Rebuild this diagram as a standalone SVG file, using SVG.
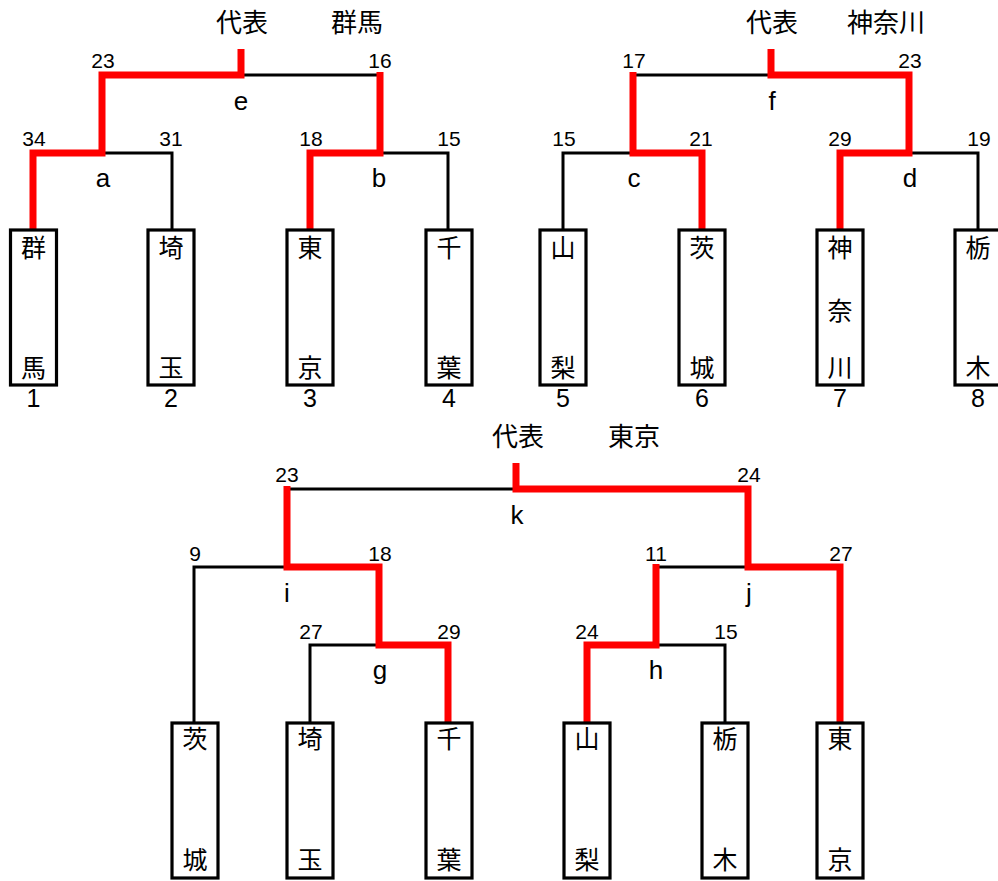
<svg xmlns="http://www.w3.org/2000/svg" width="998" height="881" viewBox="0 0 998 881">
<style>
.bg{fill:#fff}
.box{fill:#fff;stroke:#000;stroke-width:3.2}
.bk{fill:none;stroke:#000;stroke-width:3}
.rd{fill:none;stroke:#f00;stroke-width:7;stroke-linejoin:miter;stroke-linecap:butt}
.jp{font-family:"Noto Sans CJK JP","Noto Sans CJK SC",sans-serif;font-size:25px;fill:#000;text-anchor:middle}
.tt{font-family:"Noto Sans CJK JP","Noto Sans CJK SC",sans-serif;font-size:26px;fill:#000;text-anchor:middle}
.sc{font-family:"Liberation Sans",Arial,sans-serif;font-size:21px;fill:#000;text-anchor:middle}
.lb{font-family:"Liberation Sans",Arial,sans-serif;font-size:26px;fill:#000;text-anchor:middle}
.ix{font-family:"Liberation Sans",Arial,sans-serif;font-size:25px;fill:#000;text-anchor:middle}
</style>
<rect class="bg" x="0" y="0" width="998" height="881"/>

<g id="connectors">
  <path class="bk" d="M241,75 H380"/>
  <path class="bk" d="M102,153 H172 V230"/>
  <path class="bk" d="M380,153 H448 V230"/>
  <path class="bk" d="M633,75 H771"/>
  <path class="bk" d="M633,153 H563 V230"/>
  <path class="bk" d="M909,153 H978 V230"/>
  <path class="bk" d="M287,489 H516"/>
  <path class="bk" d="M287,567 H194 V723"/>
  <path class="bk" d="M379,645 H310 V723"/>
  <path class="bk" d="M656,567 H748"/>
  <path class="bk" d="M656,645 H725 V723"/>
  <path class="rd" d="M241,49 V75 H102 V153 H33 V230"/>
  <path class="rd" d="M380,72 V153 H310 V230"/>
  <path class="rd" d="M771,49 V75 H909 V153 H840 V230"/>
  <path class="rd" d="M633,72 V153 H702 V230"/>
  <path class="rd" d="M516,463 V489 H748 V567 H840 V723"/>
  <path class="rd" d="M287,486 V567 H379 V645 H448 V723"/>
  <path class="rd" d="M656,564 V645 H587 V723"/>
</g>

<g id="title-top-left"><text class="tt" x="242" y="32">代表</text><text class="tt" x="357" y="32">群馬</text></g>
<g id="title-top-right"><text class="tt" x="772" y="32">代表</text><text class="tt" x="886" y="32">神奈川</text></g>
<g id="title-bottom"><text class="tt" x="518" y="446">代表</text><text class="tt" x="634" y="446">東京</text></g>

<g id="match-e"><text class="lb" x="241" y="110">e</text><text class="sc" x="103" y="68">23</text><text class="sc" x="380" y="68">16</text></g>
<g id="match-a"><text class="lb" x="103" y="187">a</text><text class="sc" x="34" y="146">34</text><text class="sc" x="171" y="146">31</text></g>
<g id="match-b"><text class="lb" x="379" y="187">b</text><text class="sc" x="311" y="146">18</text><text class="sc" x="449" y="146">15</text></g>
<g id="match-f"><text class="lb" x="772" y="110">f</text><text class="sc" x="634" y="68">17</text><text class="sc" x="910" y="68">23</text></g>
<g id="match-c"><text class="lb" x="634" y="187">c</text><text class="sc" x="564" y="146">15</text><text class="sc" x="701" y="146">21</text></g>
<g id="match-d"><text class="lb" x="910" y="187">d</text><text class="sc" x="840" y="146">29</text><text class="sc" x="979" y="146">19</text></g>
<g id="match-k"><text class="lb" x="517" y="524">k</text><text class="sc" x="287" y="482">23</text><text class="sc" x="749" y="482">24</text></g>
<g id="match-i"><text class="lb" x="287" y="602">i</text><text class="sc" x="195" y="561">9</text><text class="sc" x="380" y="561">18</text></g>
<g id="match-j"><text class="lb" x="749" y="602">j</text><text class="sc" x="656" y="561">11</text><text class="sc" x="841" y="561">27</text></g>
<g id="match-g"><text class="lb" x="380" y="679">g</text><text class="sc" x="311" y="639">27</text><text class="sc" x="449" y="639">29</text></g>
<g id="match-h"><text class="lb" x="656" y="679">h</text><text class="sc" x="587" y="639">24</text><text class="sc" x="726" y="639">15</text></g>

<g id="team-1"><rect class="box" x="10.5" y="230" width="46" height="155"/><text class="jp" x="33.5" y="257">群</text><text class="jp" x="33.5" y="377">馬</text><text class="ix" x="33.5" y="407">1</text></g>
<g id="team-2"><rect class="box" x="148" y="230" width="46" height="155"/><text class="jp" x="171" y="257">埼</text><text class="jp" x="171" y="377">玉</text><text class="ix" x="171" y="407">2</text></g>
<g id="team-3"><rect class="box" x="287" y="230" width="46" height="155"/><text class="jp" x="310" y="257">東</text><text class="jp" x="310" y="377">京</text><text class="ix" x="310" y="407">3</text></g>
<g id="team-4"><rect class="box" x="426" y="230" width="46" height="155"/><text class="jp" x="449" y="257">千</text><text class="jp" x="449" y="377">葉</text><text class="ix" x="449" y="407">4</text></g>
<g id="team-5"><rect class="box" x="540" y="230" width="46" height="155"/><text class="jp" x="563" y="257">山</text><text class="jp" x="563" y="377">梨</text><text class="ix" x="563" y="407">5</text></g>
<g id="team-6"><rect class="box" x="679" y="230" width="46" height="155"/><text class="jp" x="702" y="257">茨</text><text class="jp" x="702" y="377">城</text><text class="ix" x="702" y="407">6</text></g>
<g id="team-7"><rect class="box" x="817" y="230" width="46" height="155"/><text class="jp" x="840" y="257">神</text><text class="jp" x="840" y="320">奈</text><text class="jp" x="840" y="377">川</text><text class="ix" x="840" y="407">7</text></g>
<g id="team-8"><rect class="box" x="955" y="230" width="46" height="155"/><text class="jp" x="978" y="257">栃</text><text class="jp" x="978" y="377">木</text><text class="ix" x="978" y="407">8</text></g>

<g id="team-b1"><rect class="box" x="172" y="723" width="46" height="155"/><text class="jp" x="195" y="748">茨</text><text class="jp" x="195" y="869">城</text></g>
<g id="team-b2"><rect class="box" x="287" y="723" width="46" height="155"/><text class="jp" x="310" y="748">埼</text><text class="jp" x="310" y="869">玉</text></g>
<g id="team-b3"><rect class="box" x="426" y="723" width="46" height="155"/><text class="jp" x="449" y="748">千</text><text class="jp" x="449" y="869">葉</text></g>
<g id="team-b4"><rect class="box" x="564" y="723" width="46" height="155"/><text class="jp" x="587" y="748">山</text><text class="jp" x="587" y="869">梨</text></g>
<g id="team-b5"><rect class="box" x="702" y="723" width="46" height="155"/><text class="jp" x="725" y="748">栃</text><text class="jp" x="725" y="869">木</text></g>
<g id="team-b6"><rect class="box" x="817" y="723" width="46" height="155"/><text class="jp" x="840" y="748">東</text><text class="jp" x="840" y="869">京</text></g>
</svg>
